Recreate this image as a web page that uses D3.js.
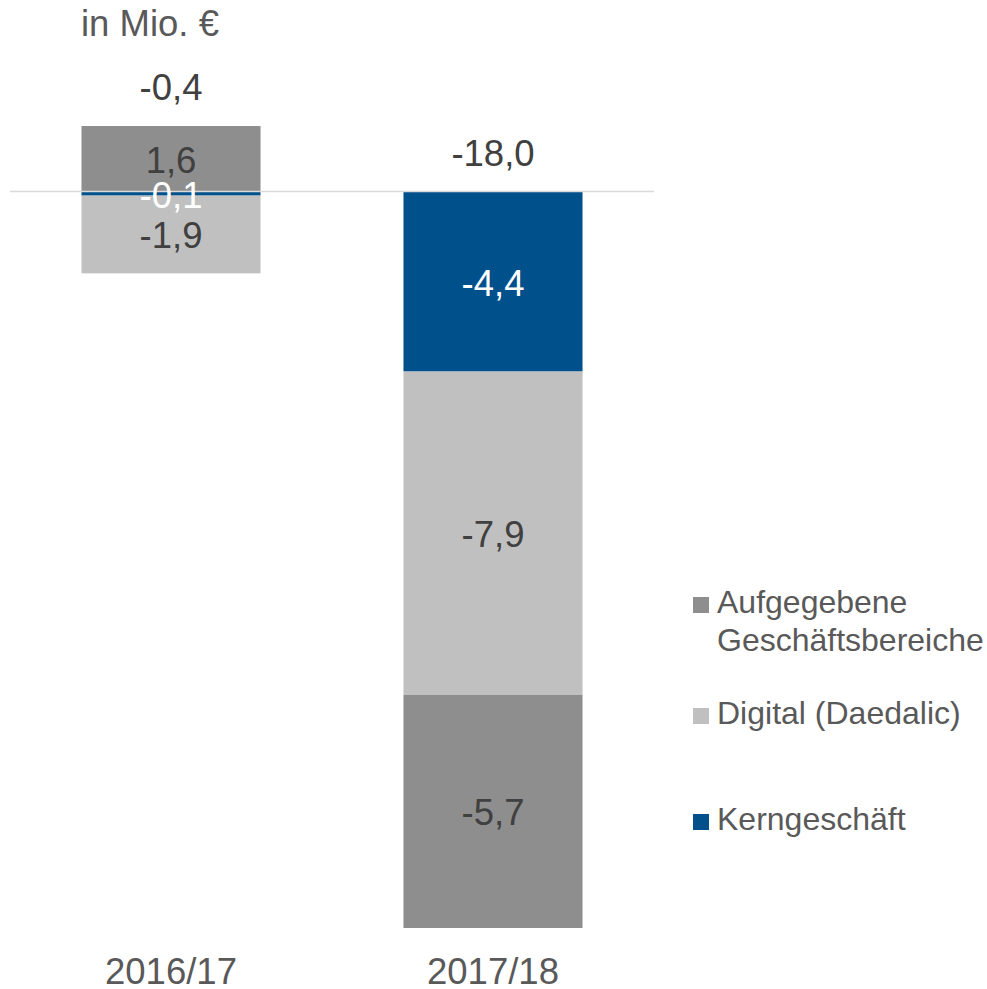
<!DOCTYPE html>
<html>
<head>
<meta charset="utf-8">
<script src="https://cdn.jsdelivr.net/npm/d3@7"></script>
<style>
  body { margin: 0; background: #fff; }
  text { font-family: "Liberation Sans", Arial, sans-serif; }
</style>
</head>
<body>
<div class="container"></div>
<script>
// chart data
const categories = ['2016/17', '2017/18']
const seriesNames = ['Kerngeschäft', 'Digital (Daedalic)', 'Aufgegebene Geschäftsbereiche']
const kerngeschaeft = [-0.1, -4.4]
const digital = [-1.9, -7.9]
const aufgegeben = [1.6, -5.7]
const totals = [-0.4, -18.0]
const legendLines = [['Aufgegebene', 'Geschäftsbereiche'], ['Digital (Daedalic)'], ['Kerngeschäft']]

const colors = {
    'Kerngeschäft': '#00508c',
    'Digital (Daedalic)': '#c0c0c0',
    'Aufgegebene Geschäftsbereiche': '#8e8e8e'
}
const labelColors = {
    'Kerngeschäft': '#ffffff',
    'Digital (Daedalic)': '#404040',
    'Aufgegebene Geschäftsbereiche': '#404040'
}

const fmt = (v) => d3.format('.1f')(v).replace('.', ',').replace('−', '-')

const width = 987, height = 989
const bigFont = '36.5px'
const legendFont = '32px'

const svg = d3.select('div.container').append('svg')
    .attr('width', width)
    .attr('height', height)

const x = d3.scaleBand()
    .domain(categories)
    .range([10, 654])
    .paddingInner(0.444)
    .paddingOuter(0.222)

const y = d3.scaleLinear()
    .domain([0, -18])
    .range([191.5, 928])

// stack positives up and negatives down, in series order
const seriesValues = [kerngeschaeft, digital, aufgegeben]
let segments = []
categories.forEach((c, i) => {
    let pos = 0, neg = 0
    seriesValues.forEach((vals, s) => {
        const v = vals[i]
        let y0, y1
        if (v >= 0) { y0 = pos; y1 = pos + v; pos = y1 }
        else { y0 = neg; y1 = neg + v; neg = y1 }
        segments.push({ cat: c, name: seriesNames[s], value: v, y0: y0, y1: y1 })
    })
})

// unit label
svg.append('text')
    .attr('x', 81)
    .attr('y', 36)
    .attr('fill', '#595959')
    .style('font-size', bigFont)
    .text('in Mio. €')

// bars
svg.selectAll('rect.seg')
    .data(segments)
    .enter().append('rect')
    .attr('class', 'seg')
    .attr('x', d => x(d.cat))
    .attr('width', x.bandwidth())
    .attr('y', d => Math.min(y(d.y0), y(d.y1)))
    .attr('height', d => Math.abs(y(d.y1) - y(d.y0)))
    .attr('fill', d => colors[d.name])

// zero line
svg.append('line')
    .attr('x1', 10).attr('x2', 654)
    .attr('y1', y(0)).attr('y2', y(0))
    .attr('stroke', '#d9d9d9')
    .attr('stroke-width', 1.5)

// segment labels
svg.selectAll('text.seg')
    .data(segments)
    .enter().append('text')
    .attr('class', 'seg')
    .attr('x', d => x(d.cat) + x.bandwidth() / 2)
    .attr('y', d => (y(d.y0) + y(d.y1)) / 2 + 14)
    .attr('text-anchor', 'middle')
    .attr('fill', d => labelColors[d.name])
    .style('font-size', bigFont)
    .text(d => fmt(d.value))

// totals above the stack
svg.selectAll('text.total')
    .data(categories)
    .enter().append('text')
    .attr('class', 'total')
    .attr('x', c => x(c) + x.bandwidth() / 2)
    .attr('y', (c, i) => y(Math.max(0, d3.sum(seriesValues, vals => Math.max(0, vals[i])))) - 26)
    .attr('text-anchor', 'middle')
    .attr('fill', '#404040')
    .style('font-size', bigFont)
    .text((c, i) => fmt(totals[i]))

// category axis labels
svg.selectAll('text.cat')
    .data(categories)
    .enter().append('text')
    .attr('class', 'cat')
    .attr('x', c => x(c) + x.bandwidth() / 2)
    .attr('y', 984)
    .attr('text-anchor', 'middle')
    .attr('fill', '#595959')
    .style('font-size', bigFont)
    .text(c => c)

// legend
const legendOrder = ['Aufgegebene Geschäftsbereiche', 'Digital (Daedalic)', 'Kerngeschäft']
const legendY = [613, 724, 830]
const legend = svg.selectAll('g.legend')
    .data(legendOrder)
    .enter().append('g')
    .attr('class', 'legend')
    .attr('transform', (d, i) => 'translate(693,' + legendY[i] + ')')

legend.append('rect')
    .attr('x', 0).attr('y', -16)
    .attr('width', 16).attr('height', 16)
    .attr('fill', d => colors[d])

legend.append('text')
    .attr('x', 24)
    .attr('fill', '#595959')
    .style('font-size', legendFont)
    .selectAll('tspan')
    .data((d, i) => legendLines[i])
    .enter().append('tspan')
    .attr('x', 24)
    .attr('dy', (d, i) => i === 0 ? 0 : 38)
    .text(d => d)
</script>
</body>
</html>
